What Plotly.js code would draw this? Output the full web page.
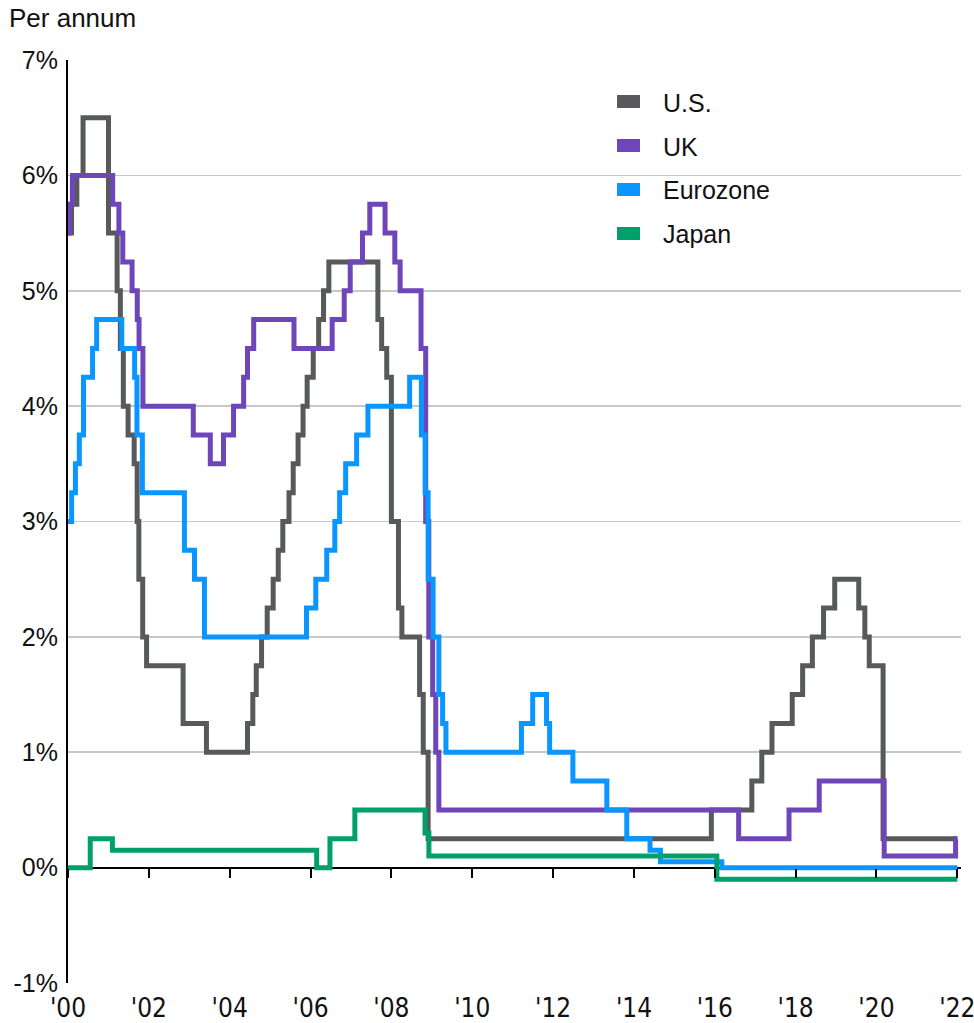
<!DOCTYPE html>
<html>
<head>
<meta charset="utf-8">
<script src="https://cdn.plot.ly/plotly-3.0.1.min.js"></script>
<style>html,body{margin:0;padding:0;background:#fff;}#chart{width:974px;height:1023px;}</style>
</head>
<body>
<div id="chart"></div>
<script>
// ---- Data (policy rates, % per annum; step changes) ----
const seriesNames = ['U.S.', 'UK', 'Eurozone', 'Japan'];

const usDates = ['2000-01-01','2000-02-02','2000-03-21','2000-05-16','2001-01-01','2001-03-20','2001-04-18','2001-05-15','2001-06-27','2001-08-21','2001-09-17','2001-10-02','2001-11-06','2001-12-11','2002-11-06','2003-06-05','2004-06-10','2004-07-28','2004-08-28','2004-10-15','2004-12-05','2005-01-28','2005-03-15','2005-04-25','2005-06-20','2005-07-28','2005-09-10','2005-10-25','2005-12-01','2006-01-25','2006-03-15','2006-04-28','2006-06-15','2007-09-01','2007-10-05','2007-11-20','2008-01-01','2008-03-05','2008-04-05','2008-09-12','2008-10-15','2008-11-28','2015-12-01','2016-12-01','2017-03-01','2017-06-01','2017-12-01','2018-03-05','2018-06-01','2018-09-10','2018-12-20','2019-07-25','2019-09-18','2019-10-28','2020-03-01','2022-01-01'];
const usRates = [5.5,5.75,6.0,6.5,5.5,5.0,4.5,4.0,3.75,3.5,3.0,2.5,2.0,1.75,1.25,1.0,1.25,1.5,1.75,2.0,2.25,2.5,2.75,3.0,3.25,3.5,3.75,4.0,4.25,4.5,4.75,5.0,5.25,4.75,4.5,4.25,3.0,2.25,2.0,1.5,1.0,0.25,0.5,0.75,1.0,1.25,1.5,1.75,2.0,2.25,2.5,2.25,2.0,1.75,0.25,0.25];

const ukDates = ['2000-01-01','2000-01-13','2000-02-10','2001-02-08','2001-04-05','2001-05-10','2001-08-02','2001-09-18','2001-10-04','2001-11-08','2003-02-06','2003-07-10','2003-11-06','2004-02-05','2004-05-06','2004-06-10','2004-08-05','2005-08-04','2006-07-15','2006-11-01','2006-12-25','2007-04-15','2007-06-20','2007-11-05','2008-02-01','2008-03-20','2008-09-25','2008-11-06','2008-12-04','2009-01-08','2009-02-05','2009-03-05','2016-08-04','2017-11-02','2018-08-02','2020-03-11','2021-12-16','2022-01-01'];
const ukRates = [5.5,5.75,6.0,5.75,5.5,5.25,5.0,4.75,4.5,4.0,3.75,3.5,3.75,4.0,4.25,4.5,4.75,4.5,4.75,5.0,5.25,5.5,5.75,5.5,5.25,5.0,4.5,3.0,2.0,1.5,1.0,0.5,0.25,0.5,0.75,0.1,0.25,0.25];

const euDates = ['2000-01-01','2000-02-03','2000-03-08','2000-04-12','2000-05-20','2000-08-10','2000-09-16','2001-05-01','2001-08-25','2001-09-15','2001-11-03','2002-11-18','2003-02-17','2003-05-18','2005-11-25','2006-02-17','2006-05-27','2006-08-08','2006-09-20','2006-11-14','2007-02-21','2007-06-03','2008-06-14','2008-09-28','2008-11-01','2008-11-28','2009-01-12','2009-03-05','2009-04-08','2009-05-08','2011-03-21','2011-07-01','2011-11-03','2011-12-01','2012-06-28','2013-05-01','2013-10-28','2014-05-26','2014-08-28','2016-03-05','2022-01-01'];
const euRates = [3.0,3.25,3.5,3.75,4.25,4.5,4.75,4.5,4.25,3.75,3.25,2.75,2.5,2.0,2.25,2.5,2.75,3.0,3.25,3.5,3.75,4.0,4.25,3.75,3.25,2.5,2.0,1.5,1.25,1.0,1.25,1.5,1.25,1.0,0.75,0.5,0.25,0.15,0.05,0.0,0.0];

const jpDates = ['2000-01-01','2000-07-20','2001-02-05','2006-02-25','2006-06-25','2007-02-05','2008-10-31','2008-12-05','2016-01-20','2022-01-01'];
const jpRates = [0.0,0.25,0.15,0.0,0.25,0.5,0.3,0.1,-0.1,-0.1];

const seriesColors = ['#58595b', '#6f45ba', '#0a96ff', '#00a06b'];

const xTickVals = ['2000-01-01','2002-01-01','2004-01-01','2006-01-01','2008-01-01','2010-01-01','2012-01-01','2014-01-01','2016-01-01','2018-01-01','2020-01-01','2022-01-01'];
const xTickText = ["'00","'02","'04","'06","'08","'10","'12","'14","'16","'18","'20","'22"];
const yTickVals = [-1,0,1,2,3,4,5,6,7];
const yTickText = ['-1%','0%','1%','2%','3%','4%','5%','6%','7%'];

// ---- Chart ----
const FONT = 'Liberation Sans, Arial, sans-serif';
const NARROW = 'Liberation Sans Narrow, Arial Narrow, DejaVu Sans Condensed, Liberation Sans, sans-serif';
const W = 974, H = 1023;
const M = {l: 68, r: 13, t: 60, b: 40};
const pw = W - M.l - M.r, ph = H - M.t - M.b;
const px = x => (x - M.l) / pw;
const py = y => (H - M.b - y) / ph;

const allX = [usDates, ukDates, euDates, jpDates];
const allY = [usRates, ukRates, euRates, jpRates];
const traces = seriesNames.map((n, i) => ({
  type: 'scatter', mode: 'lines', name: n,
  x: allX[i], y: allY[i],
  line: {shape: 'hv', width: 5, color: seriesColors[i]},
  showlegend: false, hoverinfo: 'skip', cliponaxis: false
}));

const legendRowY = [101.5, 145.5, 189.5, 233.5];
const shapes = [], annotations = [];
seriesNames.forEach((n, i) => {
  shapes.push({type: 'rect', xref: 'paper', yref: 'paper',
    x0: px(617), x1: px(640), y0: py(legendRowY[i] + 6.5), y1: py(legendRowY[i] - 6.5),
    fillcolor: seriesColors[i], line: {width: 0}});
  annotations.push({xref: 'paper', yref: 'paper', x: px(661), y: py(legendRowY[i] + 1),
    xanchor: 'left', yanchor: 'middle', text: n, showarrow: false,
    font: {family: FONT, size: 25, color: '#111'}});
});

const layout = {
  width: W, height: H,
  margin: M,
  paper_bgcolor: '#fff', plot_bgcolor: '#fff',
  showlegend: false,
  title: {text: 'Per annum', x: 9 / W, xref: 'container', xanchor: 'left',
          y: 1 - 18 / H, yref: 'container', yanchor: 'middle',
          font: {family: FONT, size: 26, color: '#111'}},
  xaxis: {
    type: 'date', range: ['2000-01-01', '2022-02-03'],
    anchor: 'free', position: 0.125,
    tickmode: 'array', tickvals: xTickVals, ticktext: xTickText,
    showgrid: false, zeroline: false, showline: false,
    ticks: 'outside', ticklen: 9, tickwidth: 2, tickcolor: '#000',
    ticklabelstandoff: 108, ticklabeloverflow: 'allow',
    tickfont: {family: NARROW, size: 26, color: '#111'},
    fixedrange: true
  },
  yaxis: {
    range: [-1, 7],
    tickmode: 'array', tickvals: yTickVals, ticktext: yTickText,
    showgrid: true, gridcolor: '#c8c8c8', gridwidth: 1.6,
    zeroline: true, zerolinecolor: '#000', zerolinewidth: 2,
    showline: true, linecolor: '#000', linewidth: 2,
    ticks: '', ticklabelstandoff: 3,
    tickfont: {family: FONT, size: 25, color: '#111'},
    fixedrange: true
  },
  shapes: shapes,
  annotations: annotations
};

Plotly.newPlot('chart', traces, layout, {displayModeBar: false, staticPlot: true});
</script>
</body>
</html>
